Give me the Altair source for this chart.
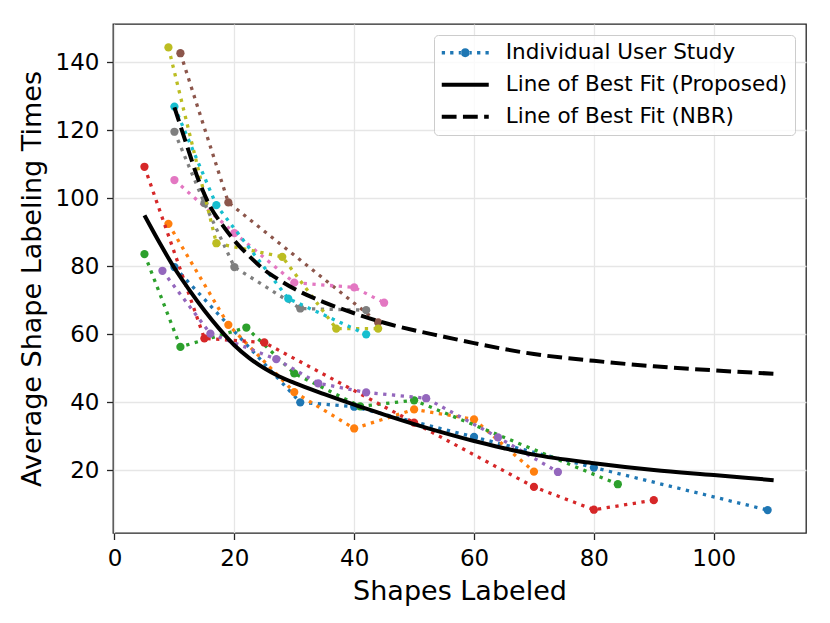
import altair as alt
import pandas as pd

# ---------------- data ----------------
blue_x = [10, 31, 40, 60, 80, 109]
blue_y = [79.8, 40.0, 38.7, 29.8, 20.8, 8.3]
orange_x = [9, 19, 30, 40, 50, 60, 70]
orange_y = [92.5, 62.8, 43.0, 32.3, 37.9, 35.0, 19.6]
green_x = [5, 11, 22, 30, 41, 50, 84]
green_y = [83.6, 56.3, 62.0, 48.5, 38.8, 40.6, 15.9]
red_x = [5, 15, 25, 50, 70, 80, 90]
red_y = [109.3, 58.8, 57.6, 34.0, 15.1, 8.4, 11.2]
purple_x = [8, 16, 27, 34, 42, 52, 64, 74]
purple_y = [78.7, 60.2, 52.7, 45.6, 42.9, 41.2, 29.7, 19.5]
brown_x = [11, 19, 44]
brown_y = [142.7, 98.8, 63.5]
pink_x = [10, 20, 30, 40, 45]
pink_y = [105.4, 89.8, 75.2, 73.8, 69.3]
gray_x = [10, 15, 20, 31, 42]
gray_y = [119.6, 98.6, 79.8, 67.6, 67.1]
olive_x = [9, 17, 28, 37, 44]
olive_y = [144.4, 86.8, 82.8, 61.7, 61.7]
cyan_x = [10, 17, 29, 42]
cyan_y = [127.0, 98.0, 70.5, 60.0]

series_colors = ["#1f77b4", "#ff7f0e", "#2ca02c", "#d62728", "#9467bd",
                 "#8c564b", "#e377c2", "#7f7f7f", "#bcbd22", "#17becf"]
series_x = [blue_x, orange_x, green_x, red_x, purple_x,
            brown_x, pink_x, gray_x, olive_x, cyan_x]
series_y = [blue_y, orange_y, green_y, red_y, purple_y,
            brown_y, pink_y, gray_y, olive_y, cyan_y]

# line of best fit (Proposed)
prop_x = [5, 7.5, 10, 12.5, 15, 17.5, 20, 22.5, 25, 27.5, 30, 35, 40, 45, 50,
          55, 60, 65, 70, 80, 90, 100, 110]
prop_y = [95.0, 87.0, 79.5, 73.0, 67.0, 61.6, 56.8, 53.0, 50.0, 47.6, 45.7,
          42.4, 39.3, 36.4, 33.6, 31.0, 28.6, 26.5, 24.6, 22.1, 20.1, 18.6, 17.1]
# line of best fit (NBR)
nbr_x = [10, 12, 14, 16, 18, 20, 22.5, 25, 27.5, 30, 35, 40, 45, 50, 55, 60,
         70, 80, 90, 100, 110]
nbr_y = [126.8, 116.0, 105.5, 97.5, 92.2, 87.6, 83.0, 79.0, 76.0, 73.4, 69.4,
         66.2, 63.4, 61.2, 59.3, 57.4, 54.2, 52.2, 50.6, 49.4, 48.4]

kinds = ["Individual User Study", "Line of Best Fit (Proposed)", "Line of Best Fit (NBR)"]
x_ticks = [0, 20, 40, 60, 80, 100]
y_ticks = [20, 40, 60, 80, 100, 120, 140]

# ---------------- legend symbol paths (1 unit = 10 px, symbol 47 px long) ----------------
def X(u):
    return (23.5 * u + 13.5) / 10.0

def H(h):
    return 23.5 * h / 10.0

def rect(a, b, h):
    return f"M{X(a):.4f},{-H(h):.4f}H{X(b):.4f}V{H(h):.4f}H{X(a):.4f}Z"

r = H(0.19)
cx = X(0)
circ = (f"M{cx - r:.4f},0A{r:.4f},{r:.4f},0,1,0,{cx + r:.4f},0"
        f"A{r:.4f},{r:.4f},0,1,0,{cx - r:.4f},0Z")
dotted_path = (rect(-1, -0.86, 0.07) + rect(-0.643, -0.502, 0.07) + rect(-0.277, -0.17, 0.07)
               + circ + rect(0.17, 0.277, 0.07) + rect(0.502, 0.643, 0.07) + rect(0.86, 1, 0.07))
solid_path = rect(-1, 1, 0.085)
dashed_path = rect(-1, -0.37, 0.085) + rect(-0.098, 0.532, 0.085) + rect(0.804, 1, 0.085)

# ---------------- encodings ----------------
x_scale = alt.Scale(domain=[-0.25, 115.4], nice=False, zero=False)
y_scale = alt.Scale(domain=[1.55, 151.3], nice=False, zero=False)
x_enc = alt.X("x:Q", scale=x_scale,
              axis=alt.Axis(values=x_ticks, title="Shapes Labeled", format="d"))
y_enc = alt.Y("y:Q", scale=y_scale,
              axis=alt.Axis(values=y_ticks, title="Average Shape Labeling Times", format="d"))

layers = []
for c, xs, ys in zip(series_colors, series_x, series_y):
    df = pd.DataFrame({"x": xs, "y": ys})
    layers.append(alt.Chart(df).mark_line(color=c, strokeWidth=3.3, strokeDash=[3.3, 5.5],
                                          strokeCap="butt").encode(x=x_enc, y=y_enc))
    layers.append(alt.Chart(df).mark_circle(color=c, size=68, opacity=1).encode(x=x_enc, y=y_enc))

prop_df = pd.DataFrame({"x": prop_x, "y": prop_y, "kind": kinds[1]})
nbr_df = pd.DataFrame({"x": nbr_x, "y": nbr_y, "kind": kinds[2]})
layers.append(alt.Chart(prop_df).mark_line(color="black", strokeWidth=4, interpolate="monotone")
              .encode(x=x_enc, y=y_enc))
layers.append(alt.Chart(nbr_df).mark_line(color="black", strokeWidth=4, strokeDash=[14.8, 6.4],
                                          strokeCap="butt", interpolate="monotone")
              .encode(x=x_enc, y=y_enc))

legend = alt.Legend(title=None, orient="top-right", offset=11, padding=7,
                    fillColor="rgba(255,255,255,0.8)", strokeColor="#cccccc", cornerRadius=4,
                    labelFontSize=21.5, labelFont="DejaVu Sans", labelColor="black",
                    labelOffset=43.25, labelLimit=500, symbolSize=400, symbolStrokeWidth=0,
                    symbolOpacity=1, rowPadding=9)
leg_df = pd.concat([prop_df, nbr_df])
layers.append(alt.Chart(leg_df).mark_point(filled=True, opacity=0).encode(
    x=x_enc, y=y_enc,
    color=alt.Color("kind:N", scale=alt.Scale(domain=kinds, range=["#1f77b4", "#000000", "#000000"]),
                    legend=legend),
    shape=alt.Shape("kind:N", scale=alt.Scale(domain=kinds, range=[dotted_path, solid_path, dashed_path]),
                    legend=legend),
))

chart = alt.layer(*layers).properties(
    width=693, height=509,
    autosize=alt.AutoSizeParams(type="none"),
    padding={"left": 105, "top": 16, "right": 8, "bottom": 82},
).configure(font="DejaVu Sans").configure_view(
    stroke="#262626", strokeWidth=1.3
).configure_axis(
    domain=False, grid=True, gridColor="#e6e6e6", gridWidth=1.3,
    tickColor="#262626", tickWidth=1.3, tickSize=6.5,
    labelFontSize=23, labelColor="black", labelPadding=7.5, labelFont="DejaVu Sans",
    titleFontSize=27, titleColor="black", titleFontWeight="normal", titleFont="DejaVu Sans",
).configure_axisX(titlePadding=8).configure_axisY(titlePadding=9)

chart.save("out.html", embed_options={"renderer": "svg", "actions": False})
